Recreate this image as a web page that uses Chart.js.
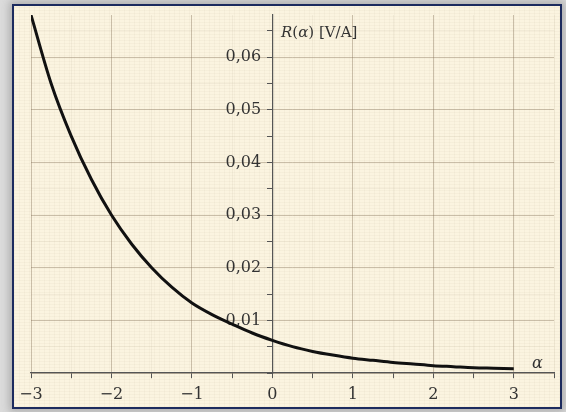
<!DOCTYPE html>
<html>
<head>
<meta charset="utf-8">
<script src="https://cdn.jsdelivr.net/npm/chart.js@4.4.1/dist/chart.umd.min.js"></script>
<style>
  html, body {
    margin: 0;
    padding: 0;
    width: 566px;
    height: 412px;
    overflow: hidden;
    background: #dcdcdc;
  }
  #frame {
    position: absolute;
    left: 12px;
    top: 4px;
    width: 546px;
    height: 401px;
    border: 2px solid #1c2b5e;
    background-color: #fbf4e0;
    background-image:
      repeating-linear-gradient(0deg, rgba(150, 130, 100, 0.05) 0px, rgba(150, 130, 100, 0.05) 1px, transparent 1px, transparent 3px),
      repeating-linear-gradient(90deg, rgba(150, 130, 100, 0.05) 0px, rgba(150, 130, 100, 0.05) 1px, transparent 1px, transparent 5px);
    box-shadow: 0 0 8px 3px rgba(120, 120, 120, 0.45);
  }
  #chart {
    position: absolute;
    left: 0;
    top: 0;
  }
</style>
</head>
<body>
<div id="frame"></div>
<canvas id="chart" width="566" height="412"></canvas>
<script>
// R(alpha) curve
const alphaValues = [-3, -2.75, -2.5, -2.25, -2, -1.75, -1.5, -1.25, -1, -0.75, -0.5, -0.25,
  0, 0.25, 0.5, 0.75, 1, 1.25, 1.5, 1.75, 2, 2.25, 2.5, 2.75, 3];
const resistance = [0.068, 0.055, 0.045, 0.0368, 0.030, 0.0245, 0.020, 0.0163, 0.0133, 0.0111, 0.0093, 0.0076,
  0.0062, 0.0050, 0.0041, 0.0034, 0.0028, 0.0024, 0.0020, 0.0017, 0.0014, 0.0012, 0.0010, 0.0009, 0.0008];

// axis ticks
const xTicks = [-3, -2.5, -2, -1.5, -1, -0.5, 0, 0.5, 1, 1.5, 2, 2.5, 3, 3.5];
const xTickLabels = ["\u22123", "", "\u22122", "", "\u22121", "", "0", "", "1", "", "2", "", "3", ""];
const yTicks = [0, 0.005, 0.01, 0.015, 0.02, 0.025, 0.03, 0.035, 0.04, 0.045, 0.05, 0.055, 0.06, 0.065];
const yTickLabels = ["", "", "0,01", "", "0,02", "", "0,03", "", "0,04", "", "0,05", "", "0,06", ""];

const majorGrid = "rgba(130, 110, 85, 0.40)";
const minorGrid = "rgba(130, 110, 85, 0.07)";
const axisColor = "#555";
const textFont = { family: "'DejaVu Serif', serif", size: 16 };
// label gap from the y axis (axis-centred scales ignore ticks.padding)
const yGap = "\u2002\u2009";

/** axis captions: R(α) [V/A] and α */
const axisCaptions = {
  id: "axisCaptions",
  afterDraw(chart) {
    const ctx = chart.ctx;
    ctx.save();
    ctx.fillStyle = "#333";
    ctx.textBaseline = "alphabetic";
    const parts = [
      ["italic 15px 'DejaVu Serif', serif", "R"],
      ["15px 'DejaVu Serif', serif", "("],
      ["italic 15px 'DejaVu Serif', serif", "\u03b1"],
      ["15px 'DejaVu Serif', serif", ") [V/A]"],
    ];
    let x = 281;
    parts.forEach(([font, txt]) => {
      ctx.font = font;
      ctx.fillText(txt, x, 37);
      x += ctx.measureText(txt).width;
    });
    ctx.font = "italic 16px 'DejaVu Serif', serif";
    ctx.fillText("\u03b1", 532, 368);
    ctx.restore();
  },
};

const ctx = document.getElementById("chart").getContext("2d");
new Chart(ctx, {
  type: "line",
  data: {
    datasets: [
      {
        data: alphaValues.map((a, i) => ({ x: a, y: resistance[i] })),
        borderColor: "#111",
        borderWidth: 3,
        pointRadius: 0,
        cubicInterpolationMode: "monotone",
        fill: false,
      },
    ],
  },
  options: {
    responsive: false,
    animation: false,
    layout: {
      padding: { left: 31, right: 12, top: 15, bottom: 39 },
    },
    scales: {
      x: {
        type: "linear",
        position: { y: 0 },
        min: -3,
        max: 3.5,
        afterBuildTicks: (scale) => {
          scale.ticks = xTicks.map((v) => ({ value: v }));
        },
        ticks: {
          autoSkip: false,
          maxRotation: 0,
          padding: 7,
          color: "#333",
          font: textFont,
          callback: (v) => xTickLabels[xTicks.indexOf(v)],
        },
        grid: {
          color: (c) => (Number.isInteger(c.tick && c.tick.value) ? majorGrid : minorGrid),
          tickColor: axisColor,
          tickLength: 5,
        },
        border: { color: axisColor, width: 1.2 },
      },
      y: {
        type: "linear",
        position: { x: 0 },
        min: 0,
        max: 0.068,
        afterBuildTicks: (scale) => {
          scale.ticks = yTicks.map((v) => ({ value: v }));
        },
        ticks: {
          autoSkip: false,
          color: "#333",
          font: textFont,
          callback: (v) => {
            const lbl = yTickLabels[yTicks.findIndex((t) => Math.abs(t - v) < 1e-9)];
            return lbl ? lbl + yGap : "";
          },
        },
        grid: {
          color: (c) => {
            const v = c.tick ? c.tick.value : 0;
            return Math.abs(v * 100 - Math.round(v * 100)) < 1e-6 ? majorGrid : minorGrid;
          },
          tickColor: axisColor,
          tickLength: 5,
        },
        border: { color: axisColor, width: 1.2 },
      },
    },
    plugins: {
      legend: { display: false },
      tooltip: { enabled: false },
    },
  },
  plugins: [axisCaptions],
});
</script>
</body>
</html>
